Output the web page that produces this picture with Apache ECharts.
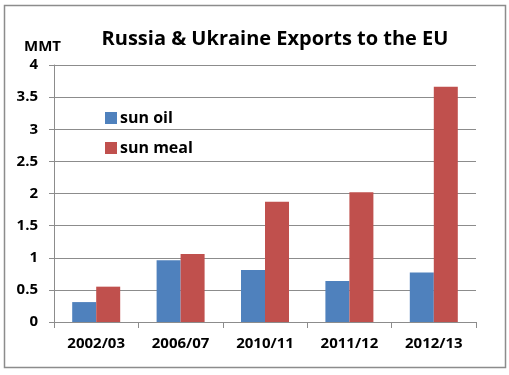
<!DOCTYPE html>
<html><head><meta charset="utf-8">
<script src="https://cdn.jsdelivr.net/npm/echarts@6/dist/echarts.min.js"></script>
<style>html,body{margin:0;padding:0;background:#fff}#c{width:509px;height:375px}</style>
</head><body><div id="c"></div>
<script>
const categories = ['2002/03','2006/07','2010/11','2011/12','2012/13'];
const sunOil = [0.31, 0.96, 0.81, 0.64, 0.77];
const sunMeal = [0.55, 1.06, 1.87, 2.02, 3.66];
const yTicks = [0, 0.5, 1, 1.5, 2, 2.5, 3, 3.5, 4];
const FONT = '"Open Sans", "Liberation Sans", sans-serif';
const chart = echarts.init(document.getElementById('c'), null, {renderer:'canvas'});
chart.setOption({
  animation:false,
  backgroundColor:'#fff',
  graphic:[{type:'rect', shape:{x:4.5,y:5.5,width:501,height:362}, style:{fill:'none', stroke:'#8c8c8c', lineWidth:1.5}, silent:true}],
  title:[
    {text:'Russia & Ukraine Exports to the EU', left:270, top:24, textAlign:'center',
     textStyle:{fontFamily:FONT, fontSize:20, fontWeight:'bold', color:'#000'}},
    {text:'MMT', left:19, top:34, textStyle:{fontFamily:FONT, fontSize:15, fontWeight:'bold', color:'#000'}}
  ],
  legend:{orient:'vertical', left:100, top:105, itemWidth:12, itemHeight:12, itemGap:14,
    icon:'rect',
    textStyle:{fontFamily:FONT, fontSize:16, fontWeight:'bold', color:'#000', padding:[0,0,0,-2]},
    data:['sun oil','sun meal']},
  grid:{left:54, right:33, top:65, bottom:53},
  xAxis:{type:'category', data:categories,
    axisLine:{lineStyle:{color:'#8c8c8c'}},
    axisTick:{show:true, length:6, lineStyle:{color:'#8c8c8c'}},
    axisLabel:{fontFamily:FONT, fontSize:15, fontWeight:'bold', color:'#000', margin:14}},
  yAxis:{type:'value', min:yTicks[0], max:yTicks[yTicks.length-1], interval:0.5,
    axisLine:{show:true, lineStyle:{color:'#8c8c8c'}},
    axisTick:{show:true, length:5, lineStyle:{color:'#8c8c8c'}},
    splitLine:{lineStyle:{color:'#8c8c8c'}},
    axisLabel:{fontFamily:FONT, fontSize:15, fontWeight:'bold', color:'#000', margin:16}},
  series:[
    {name:'sun oil', type:'bar', data:sunOil, barWidth:24, barGap:'0%', itemStyle:{color:'#4F81BD'}},
    {name:'sun meal', type:'bar', data:sunMeal, barWidth:24, itemStyle:{color:'#C0504D'}}
  ]
});
</script></body></html>
